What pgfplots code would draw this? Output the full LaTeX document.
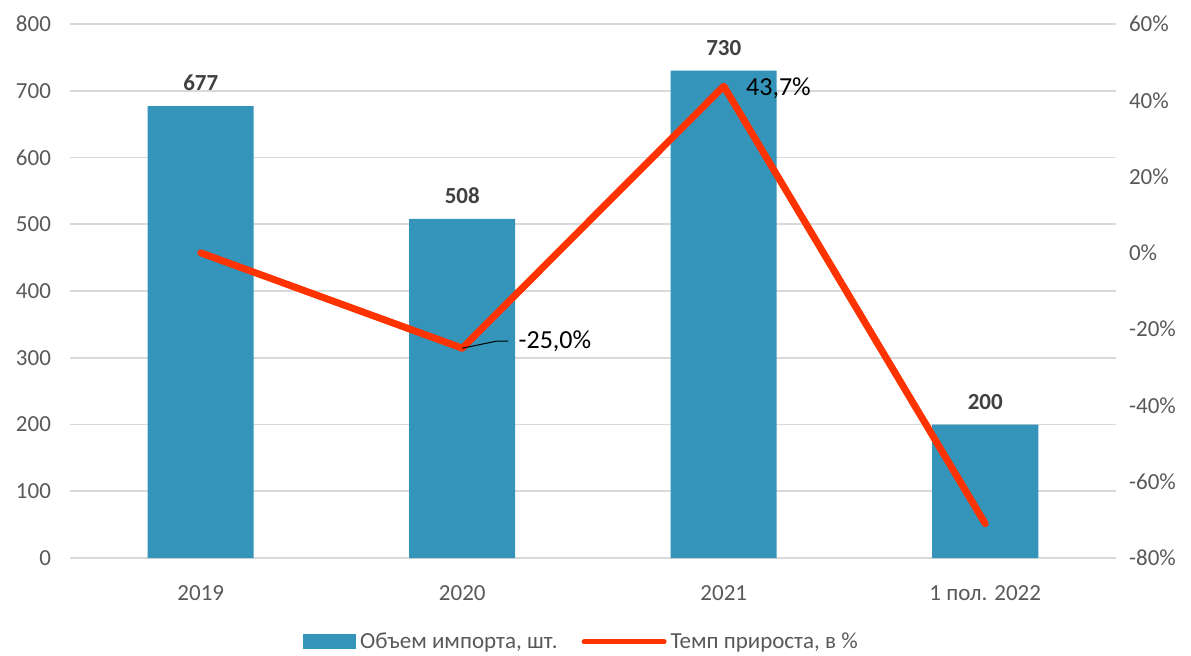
\documentclass[border=0pt]{standalone}
\usepackage{pgfplots}
\pgfplotsset{compat=1.18}
\usepackage{fontspec}
\setmainfont{Carlito}
\definecolor{barblue}{HTML}{3494BA}
\definecolor{linered}{HTML}{FF3300}
\definecolor{ticktxt}{HTML}{595959}
\definecolor{lbltxt}{HTML}{404040}
\definecolor{gridc}{HTML}{D9D9D9}

\pgfplotsset{
  common/.style={
    at={(35pt,48.5pt)}, anchor=south west,
    scale only axis, width=523pt, height=267pt,
    xmin=-0.5, xmax=3.5,
    axis line style={draw=none},
    major tick style={draw=none},
    tick label style={font=\fontsize{11.5}{13}\selectfont, text=ticktxt},
    /pgf/number format/assume math mode=true,
  }
}

\begin{document}
\begin{tikzpicture}
% bars: import volume
\begin{axis}[common,
  ymin=0, ymax=800, ytick={0,100,...,800},
  yticklabel style={xshift=-6pt},
  xtick={0,1,2,3}, xticklabels={2019,2020,2021,1 пол. 2022},
  xticklabel style={yshift=-6pt},
  ymajorgrids, grid style={gridc, line width=0.9pt},
  ybar, bar width=53pt,
  nodes near coords,
  every node near coord/.append style={font=\fontsize{11.5}{13}\selectfont\bfseries, text=lbltxt, yshift=4pt},
]
\addplot[fill=barblue, draw=none] coordinates {(0,677) (1,508) (2,730) (3,200)};
\end{axis}
% line: growth rate
\begin{axis}[common,
  axis y line*=right, axis x line=none,
  ymin=-80, ymax=60, ytick={-80,-60,...,60},
  yticklabels={-80\%,-60\%,-40\%,-20\%,0\%,20\%,40\%,60\%},
  yticklabel style={xshift=3pt},
  legend style={at={(0.49,-0.157)}, anchor=center, draw=none, fill=none,
    legend columns=2, font=\fontsize{11.5}{13}\selectfont, text=ticktxt,
    /tikz/every even column/.append style={column sep=10pt}},
]
\addlegendimage{legend image code/.code={\fill[barblue] (0pt,-3.5pt) rectangle (26pt,3.5pt);}}
\addlegendentry{Объем импорта, шт.}
\addplot[linered, line width=3.5pt, line join=round, line cap=round,
  legend image code/.code={\draw[linered, line width=2.5pt, line cap=round] (0pt,0pt) -- (40pt,0pt);}]
  coordinates {(0,0) (1,-25) (2,43.7) (3,-71)};
\addlegendentry{Темп прироста, в \%}
\draw[black, line width=0.5pt] (axis cs:1,-25) -- ++(17pt,3.5pt) -- ++(6pt,0pt);
\node[anchor=west, font=\fontsize{13}{15}\selectfont, inner sep=1pt] at ([xshift=27pt,yshift=3.5pt]axis cs:1,-25) {-25,0\%};
\node[anchor=west, font=\fontsize{13}{15}\selectfont, inner sep=1pt] at ([xshift=10pt,yshift=-1pt]axis cs:2,43.7) {43,7\%};
\end{axis}
\pgfresetboundingbox
\path (0,0) rectangle (595.5pt,327.5pt);
\end{tikzpicture}
\end{document}
